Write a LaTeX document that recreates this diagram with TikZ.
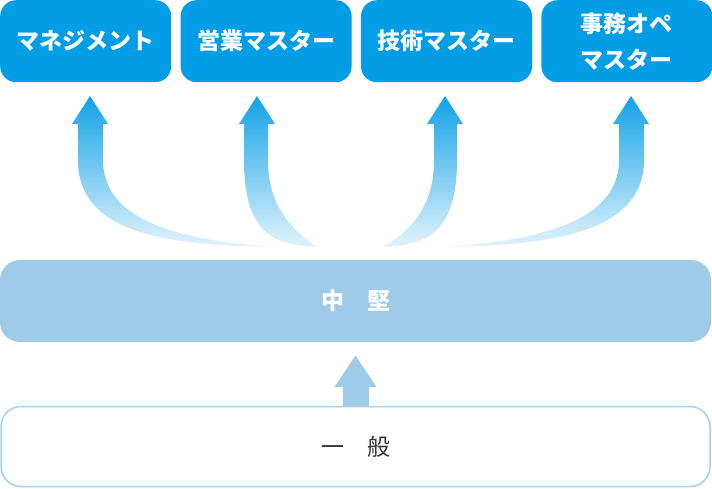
\documentclass[tikz,border=0pt]{standalone}
\usepackage{fontspec}
\newfontfamily\jpfont{Noto Sans CJK JP}
\usetikzlibrary{arrows.meta, positioning, calc}

\definecolor{topblue}{HTML}{039DE5}
\definecolor{midblue}{HTML}{9ECBE8}
\definecolor{lineblue}{HTML}{A3D0EE}
\definecolor{textgray}{HTML}{333333}
\definecolor{gradtop}{HTML}{12A2E6}
\definecolor{gradbot}{HTML}{E3F3FC}

\begin{document}
\begin{tikzpicture}[
    x=1pt, y=-1pt,
    master/.style={fill=topblue, rounded corners=16pt, minimum width=171pt,
                   minimum height=82pt, inner sep=0pt, text=white, align=center,
                   font=\jpfont\bfseries\fontsize{23}{36}\selectfont},
    level/.style={rounded corners=20pt, minimum width=711pt,
                  minimum height=82pt, inner sep=0pt},
    risearrow/.style={top color=gradtop, bottom color=gradbot, draw=none}
  ]
  \useasboundingbox (0,0) rectangle (712,488);

  % masters
  \node[master, anchor=north west] (mgmt) at (0,0) {マネジメント};
  \node[master, right=9pt of mgmt] (sales) {営業マスター};
  \node[master, right=9pt of sales] (tech) {技術マスター};
  \node[master, right=9pt of tech] (ops) {事務オペ\\マスター};

  % curved arrows
  \shade[risearrow] (90,96) -- (108,124) -- (103,124) -- (103,160)
    .. controls (103,225) and (190,240) .. (270,247)
    .. controls (170,245) and (78,235) .. (78,160) -- (78,124) -- (72,124) -- cycle;
  \shade[risearrow] (257,96) -- (275,124) -- (268,124) -- (268,160)
    .. controls (268,200) and (285,225) .. (317,247)
    .. controls (275,245) and (244,235) .. (244,160) -- (244,124) -- (239,124) -- cycle;
  \shade[risearrow] (445,96) -- (463,124) -- (457,124) -- (457,160)
    .. controls (457,235) and (425,245) .. (384,247)
    .. controls (418,225) and (434,200) .. (434,160) -- (434,124) -- (427,124) -- cycle;
  \shade[risearrow] (631,96) -- (649,124) -- (644,124) -- (644,160)
    .. controls (644,235) and (545,245) .. (449,247)
    .. controls (530,240) and (619,225) .. (619,160) -- (619,124) -- (613,124) -- cycle;

  % levels
  \node[level, fill=midblue, text=white,
        font=\jpfont\bfseries\fontsize{23}{28}\selectfont] (mid) at (355.5,301) {中　堅};
  \node[level, draw=lineblue, line width=1.5pt, fill=white, text=textgray,
        minimum width=709pt, minimum height=80pt,
        font=\jpfont\fontsize{23}{28}\selectfont] (low) at (355.5,446.5) {一　般};

  \draw[midblue, line width=26pt, -{Triangle[length=32pt, width=40pt]}]
    (low.north) -- ($(mid.south)+(0,13)$);
\end{tikzpicture}
\end{document}
